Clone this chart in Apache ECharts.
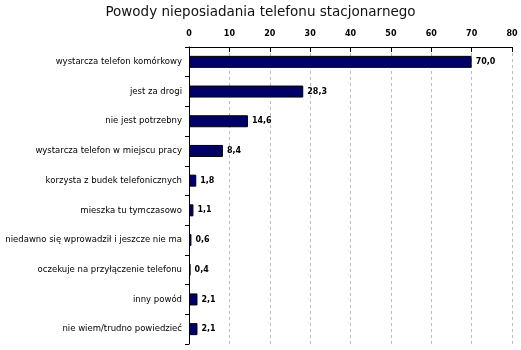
<!DOCTYPE html>
<html>
<head>
<meta charset="utf-8">
<script src="https://cdn.jsdelivr.net/npm/echarts@6/dist/echarts.min.js"></script>
<style>
  html, body { margin: 0; padding: 0; background: #fff; }
  #chart { width: 521px; height: 350px; }
</style>
</head>
<body>
<div id="chart"></div>
<script>
const categories = [
  "wystarcza telefon komórkowy",
  "jest za drogi",
  "nie jest potrzebny",
  "wystarcza telefon w miejscu pracy",
  "korzysta z budek telefonicznych",
  "mieszka tu tymczasowo",
  "niedawno się wprowadził i jeszcze nie ma",
  "oczekuje na przyłączenie telefonu",
  "inny powód",
  "nie wiem/trudno powiedzieć"
];
const values = [70.0, 28.3, 14.6, 8.4, 1.8, 1.1, 0.6, 0.4, 2.1, 2.1];

const chart = echarts.init(document.getElementById("chart"));

const option = {
  animation: false,
  title: {
    text: "Powody nieposiadania telefonu stacjonarnego",
    left: "center",
    top: 0,
    textStyle: { fontFamily: "DejaVu Sans", fontSize: 13.5, fontWeight: "normal", color: "#111" }
  },
  grid: { left: 189, right: 9, top: 47, bottom: 6 },
  xAxis: {
    type: "value",
    position: "top",
    min: 0,
    max: 80,
    interval: 10,
    axisLine: { show: true, lineStyle: { color: "#000", width: 1 } },
    axisTick: { show: true, inside: true, length: 5, lineStyle: { color: "#000" } },
    axisLabel: { color: "#000", fontFamily: "DejaVu Sans", fontSize: 8, fontWeight: "bold", margin: 9 },
    splitLine: { show: true, lineStyle: { color: "#bbb", type: [3, 3], width: 1 } }
  },
  yAxis: {
    type: "category",
    inverse: true,
    data: categories,
    axisLine: { show: true, lineStyle: { color: "#000", width: 1 } },
    axisTick: { show: true, length: 4, lineStyle: { color: "#000" } },
    axisLabel: { color: "#000", fontFamily: "DejaVu Sans", fontSize: 8.5, margin: 7 }
  },
  series: [{
    type: "bar",
    data: values,
    barWidth: 12,
    itemStyle: { color: "#000066", borderColor: "#000", borderWidth: 1 },
    label: {
      show: true,
      position: "right",
      distance: 4,
      color: "#000",
      fontFamily: "DejaVu Sans",
      fontSize: 8,
      fontWeight: "bold",
      formatter: (p) => p.value.toFixed(1).replace(".", ",")
    }
  }]
};

chart.setOption(option);
</script>
</body>
</html>
